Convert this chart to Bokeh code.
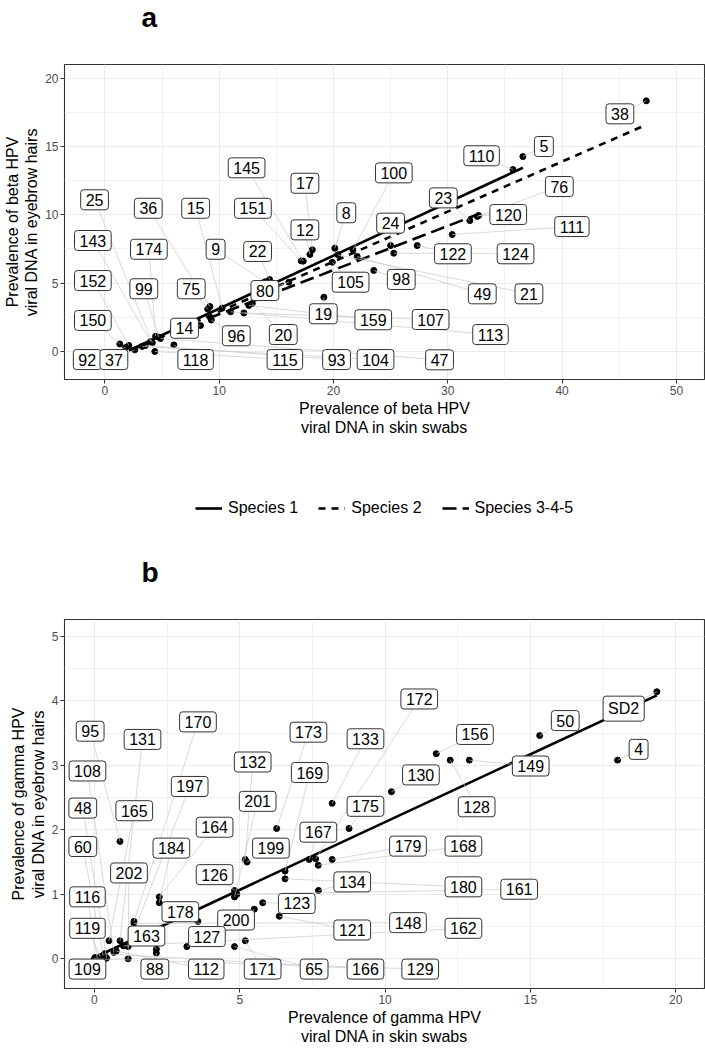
from bokeh.plotting import figure
from bokeh.layouts import column
from bokeh.models import (ColumnDataSource, Legend, LegendItem, Range1d,
                          FixedTicker, Label)
from bokeh.core.properties import value
from bokeh.embed import file_html
from bokeh.resources import INLINE

FONT = "Liberation Sans"

# ---------------- Panel a: beta HPV ----------------
a_labels = ["38", "5", "110", "76", "120", "23", "111", "122", "124", "24",
            "98", "49", "100", "21", "8", "105", "17", "12", "145", "151",
            "19", "22", "9", "80", "20", "159", "107", "96", "15", "36",
            "75", "14", "113", "118", "174", "99", "25", "143", "115", "93",
            "104", "47", "152", "150", "92", "37"]
a_skin = [47.37, 36.57, 35.70, 32.58, 32.70, 31.93, 30.39, 27.33, 25.28, 25.00,
          23.53, 22.08, 21.70, 20.39, 20.12, 19.90, 18.15, 17.94, 17.36, 17.18,
          19.16, 14.41, 14.00, 16.10, 12.90, 12.60, 12.16, 9.31, 10.27, 9.19,
          9.00, 8.37, 11.00, 6.04, 4.44, 4.72, 4.15, 4.00, 4.37, 3.56,
          3.27, 4.87, 2.10, 1.31, 1.81, 2.62]
a_hair = [18.34, 14.26, 13.31, 9.88, 9.95, 9.58, 8.56, 7.75, 7.19, 7.75,
          5.93, 6.95, 7.44, 7.07, 7.56, 6.53, 7.44, 7.10, 6.61, 6.63,
          3.97, 5.27, 5.10, 5.07, 3.51, 3.37, 2.82, 2.30, 3.18, 3.29,
          3.10, 1.90, 2.90, 0.48, 1.12, 1.05, 0.64, 0.73, 0.00, 0.44,
          0.37, 0.95, 0.44, 0.55, 0.29, 0.12]
# repelled label anchor positions (data units)
a_label_x = [45.06, 38.41, 32.96, 39.76, 35.29, 29.61, 40.86, 30.45, 35.93, 25.00,
             25.93, 33.02, 25.28, 37.10, 21.12, 21.50, 17.50, 17.50, 12.40, 12.95,
             19.11, 13.36, 9.69, 14.00, 15.61, 23.48, 28.50, 11.50, 7.94, 3.80,
             7.56, 6.97, 33.74, 7.94, 3.85, 3.41, -0.90, -1.05, 15.75, 20.27,
             23.68, 29.28, -1.05, -1.05, -1.54, 0.79]
a_label_y = [17.39, 15.00, 14.32, 12.07, 10.02, 11.24, 9.14, 7.15, 7.15, 9.39,
             5.27, 4.22, 13.07, 4.22, 10.15, 5.07, 12.31, 8.90, 13.44, 10.48,
             2.76, 7.32, 7.48, 4.46, 1.24, 2.32, 2.34, 1.15, 10.48, 10.48,
             4.59, 1.70, 1.24, -0.59, 7.48, 4.59, 11.10, 8.12, -0.59, -0.59,
             -0.59, -0.61, 5.19, 2.27, -0.59, -0.59]

a_species = ["Species 1", "Species 2", "Species 3-4-5"]
a_fit_intercept = [-0.745, -0.745, -0.504]
a_fit_slope = [0.388, 0.366, 0.323]
a_fit_xmin = [2.1, 2.6, 8.96]
a_fit_xmax = [36.57, 47.3, 32.7]

a_xticks = [0, 10, 20, 30, 40, 50]
a_yticks = [0, 5, 10, 15, 20]

# ---------------- Panel b: gamma HPV ----------------
b_labels = ["95", "131", "170", "173", "133", "108", "132", "169", "197", "201",
            "48", "165", "175", "164", "167", "60", "184", "199", "172", "156",
            "130", "128", "50", "SD2", "4", "149", "179", "168", "202", "126",
            "134", "116", "123", "178", "200", "121", "119", "163", "127", "109",
            "88", "112", "171", "65", "166", "180", "161", "148", "162", "129"]
b_skin = [0.88, 0.88, 1.36, 6.27, 8.18, 0.67, 5.19, 6.56, 1.16, 4.82,
          0.42, 0.50, 8.76, 2.23, 7.39, 0.30, 2.23, 5.25, 7.61, 11.76,
          10.22, 12.24, 15.32, 19.35, 18.00, 12.90, 8.18, 7.70, 1.16, 4.82,
          7.71, 0.10, 5.79, 3.56, 5.50, 6.36, 0.20, 2.13, 3.18, 0.02,
          2.13, 0.75, 5.19, 4.82, 0.35, 6.56, 4.90, 1.36, 1.00, 0.00]
b_hair = [1.82, 0.28, 0.58, 2.02, 2.41, 0.10, 1.54, 1.36, 0.19, 0.96,
          0.01, 0.28, 2.02, 0.96, 1.54, 0.05, 0.87, 1.50, 1.55, 3.18,
          2.59, 3.08, 3.46, 4.14, 3.08, 3.08, 1.54, 1.45, 0.00, 1.06,
          1.06, 0.00, 0.87, 0.58, 0.77, 0.66, 0.03, 0.15, 0.19, 0.02,
          0.09, 0.12, 0.28, 0.19, 0.08, 1.24, 1.00, 0.55, 0.20, 0.00]
b_label_x = [-0.147, 1.654, 3.562, 7.363, 9.325, -0.240, 5.445, 7.408, 3.277, 5.616,
             -0.401, 1.370, 9.325, 4.134, 7.705, -0.401, 2.647, 6.072, 11.175, 13.092,
             11.233, 13.151, 16.199, 18.209, 18.723, 15.010, 10.788, 12.695, 1.188, 4.134,
             8.870, -0.240, 6.962, 2.955, 4.873, 8.870, -0.240, 1.791, 3.870, -0.240,
             2.079, 3.846, 5.788, 7.558, 9.325, 12.695, 14.613, 10.788, 12.695, 11.209]
b_label_y = [3.528, 3.401, 3.673, 3.513, 3.411, 2.912, 3.051, 2.888, 2.672, 2.441,
             2.337, 2.296, 2.364, 2.040, 1.963, 1.741, 1.716, 1.716, 4.028, 3.478,
             2.851, 2.357, 3.693, 3.878, 3.247, 2.989, 1.747, 1.747, 1.331, 1.305,
             1.193, 0.961, 0.858, 0.730, 0.601, 0.447, 0.473, 0.354, 0.345, -0.159,
             -0.159, -0.159, -0.159, -0.159, -0.159, 1.116, 1.079, 0.561, 0.473, -0.159]

b_fit_intercept = 0.02
b_fit_slope = 0.210
b_fit_xmin = 0.0
b_fit_xmax = 19.35

b_xticks = [0, 5, 10, 15, 20]
b_yticks = [0, 1, 2, 3, 4, 5]

GRID = "#EBEBEB"
DARK = "#333333"
DASHES = ["solid", "7 6", "14 6"]


def mids(t):
    return [(t[i] + t[i + 1]) / 2 for i in range(len(t) - 1)]


def style(p, xticks, yticks, xlabel, ylabel):
    p.xaxis.ticker = FixedTicker(ticks=xticks, minor_ticks=mids(xticks))
    p.yaxis.ticker = FixedTicker(ticks=yticks, minor_ticks=mids(yticks))
    p.xgrid.grid_line_color = GRID
    p.ygrid.grid_line_color = GRID
    p.xgrid.grid_line_width = 1.1
    p.ygrid.grid_line_width = 1.1
    p.xgrid.minor_grid_line_color = GRID
    p.ygrid.minor_grid_line_color = GRID
    p.xgrid.minor_grid_line_width = 0.7
    p.ygrid.minor_grid_line_width = 0.7
    p.outline_line_color = DARK
    p.outline_line_width = 1.1
    p.background_fill_color = "white"
    for ax in (p.xaxis, p.yaxis):
        ax.axis_line_color = None
        ax.major_tick_line_color = DARK
        ax.major_tick_out = 4
        ax.major_tick_in = 0
        ax.minor_tick_line_color = None
        ax.major_label_text_font = FONT
        ax.major_label_text_font_size = "12px"
        ax.major_label_text_color = "#4D4D4D"
        ax.major_label_standoff = 2
        ax.axis_label_text_font = FONT
        ax.axis_label_text_font_size = "16px"
        ax.axis_label_text_font_style = "normal"
        ax.axis_label_text_color = "black"
        ax.axis_label_text_line_height = 1.15
        ax.axis_label_standoff = 2
    p.xaxis.axis_label = xlabel
    p.yaxis.axis_label = ylabel


def add_labels(p, xs, ys, lxs, lys, texts):
    src = ColumnDataSource(dict(x=xs, y=ys, lx=lxs, ly=lys, text=texts))
    p.segment(x0="x", y0="y", x1="lx", y1="ly", source=src,
              line_color="#C8C8C8", line_width=0.7)
    p.text(x="lx", y="ly", text="text", source=src,
           text_font=value(FONT), text_font_size=value("16px"),
           text_align="center", text_baseline="middle", text_color="black",
           background_fill_color="white", border_line_color=DARK,
           border_line_width=1, padding=(5, 4), border_radius=3)


def strip(height):
    s = figure(width=705, height=height, output_backend="svg",
               toolbar_location=None, x_range=Range1d(0, 1),
               y_range=Range1d(0, 1), x_axis_location=None,
               y_axis_location=None, min_border=0)
    s.grid.visible = False
    s.outline_line_color = None
    return s


def panel_tag(s, text, y):
    s.add_layout(Label(x=77, y=y, x_units="screen", y_units="screen",
                       text=text, text_font=FONT, text_font_size="28px",
                       text_font_style="bold", text_color="black",
                       text_baseline="alphabetic"))


# ---------------- Tag strip "a" ----------------
sa = strip(40)
panel_tag(sa, "a", 23)

# ---------------- Figure a ----------------
pa = figure(width=705, height=410, output_backend="svg", toolbar_location=None,
            x_range=Range1d(-3.53, 52.46), y_range=Range1d(-2.05, 21.0),
            min_border_left=56, min_border_right=1, min_border_top=24,
            min_border_bottom=71)
style(pa, a_xticks, a_yticks,
      "Prevalence of beta HPV\nviral DNA in skin swabs",
      "Prevalence of beta HPV\nviral DNA in eyebrow hairs")

pa.scatter(a_skin, a_hair, size=6, color="black")
for i, sp in enumerate(a_species):
    xs = [a_fit_xmin[i], a_fit_xmax[i]]
    ys = [a_fit_intercept[i] + a_fit_slope[i] * x for x in xs]
    pa.line(xs, ys, line_color="black", line_width=2.6, line_dash=DASHES[i])
add_labels(pa, a_skin, a_hair, a_label_x, a_label_y, a_labels)

# ---------------- Legend strip (key for panel a) + tag "b" ----------------
pl = strip(140)
items = []
for i, sp in enumerate(a_species):
    # key glyphs only: data lies outside the strip's visible range
    r = pl.line([-10, -9], [-10, -9], line_color="black", line_width=2.6,
                line_dash=DASHES[i])
    items.append(LegendItem(label=sp, renderers=[r]))
leg = Legend(items=items, orientation="horizontal", location=(131, 72),
             label_text_font=FONT, label_text_font_size="16px",
             label_text_color="black",
             glyph_width=27, glyph_height=20, label_standoff=6, spacing=20,
             padding=0, margin=0, background_fill_alpha=0,
             border_line_color=None)
pl.add_layout(leg)
panel_tag(pl, "b", 18)

# ---------------- Figure b ----------------
pb = figure(width=705, height=458, output_backend="svg", toolbar_location=None,
            x_range=Range1d(-1.03, 20.99), y_range=Range1d(-0.46, 5.26),
            min_border_left=56, min_border_right=1, min_border_top=29,
            min_border_bottom=10)
style(pb, b_xticks, b_yticks,
      "Prevalence of gamma HPV\nviral DNA in skin swabs",
      "Prevalence of gamma HPV\nviral DNA in eyebrow hairs")

pb.scatter(b_skin, b_hair, size=6, color="black")
bx = [b_fit_xmin, b_fit_xmax]
by = [b_fit_intercept + b_fit_slope * x for x in bx]
pb.line(bx, by, line_color="black", line_width=2.6)
add_labels(pb, b_skin, b_hair, b_label_x, b_label_y, b_labels)

layout = column(sa, pa, pl, pb)
open("out.html", "w").write(file_html(layout, INLINE))
